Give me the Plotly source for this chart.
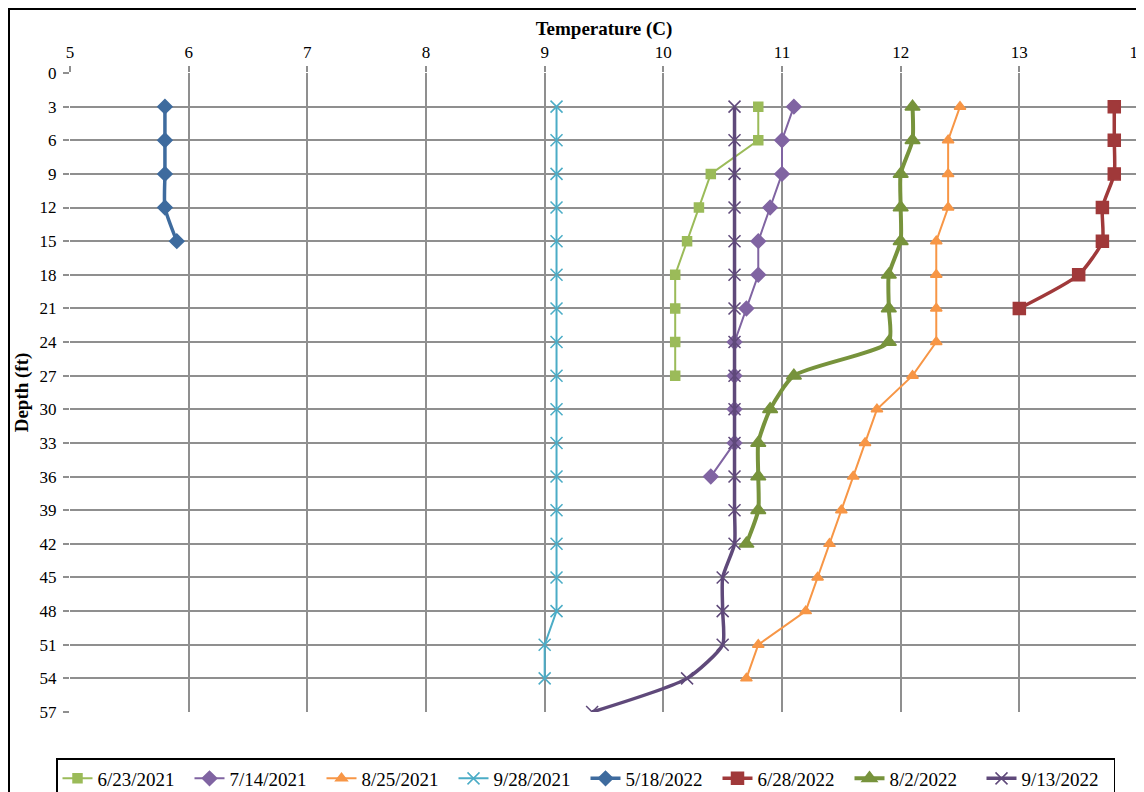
import plotly.graph_objects as go

d_0623_2021 = [3, 6, 9, 12, 15, 18, 21, 24, 27]
t_0623_2021 = [10.8, 10.8, 10.4, 10.3, 10.2, 10.1, 10.1, 10.1, 10.1]

d_0714_2021 = [3, 6, 9, 12, 15, 18, 21, 24, 27, 30, 33, 36]
t_0714_2021 = [11.1, 11.0, 11.0, 10.9, 10.8, 10.8, 10.7, 10.6, 10.6, 10.6, 10.6, 10.4]

d_0825_2021 = [3, 6, 9, 12, 15, 18, 21, 24, 27, 30, 33, 36, 39, 42, 45, 48, 51, 54]
t_0825_2021 = [12.5, 12.4, 12.4, 12.4, 12.3, 12.3, 12.3, 12.3, 12.1, 11.8, 11.7, 11.6, 11.5, 11.4, 11.3, 11.2, 10.8, 10.7]

d_0928_2021 = [3, 6, 9, 12, 15, 18, 21, 24, 27, 30, 33, 36, 39, 42, 45, 48, 51, 54]
t_0928_2021 = [9.1, 9.1, 9.1, 9.1, 9.1, 9.1, 9.1, 9.1, 9.1, 9.1, 9.1, 9.1, 9.1, 9.1, 9.1, 9.1, 9.0, 9.0]

d_0518_2022 = [3, 6, 9, 12, 15]
t_0518_2022 = [5.8, 5.8, 5.8, 5.8, 5.9]

d_0628_2022 = [3, 6, 9, 12, 15, 18, 21]
t_0628_2022 = [13.8, 13.8, 13.8, 13.7, 13.7, 13.5, 13.0]

d_0802_2022 = [3, 6, 9, 12, 15, 18, 21, 24, 27, 30, 33, 36, 39, 42]
t_0802_2022 = [12.1, 12.1, 12.0, 12.0, 12.0, 11.9, 11.9, 11.9, 11.1, 10.9, 10.8, 10.8, 10.8, 10.7]

d_0913_2022 = [3, 6, 9, 12, 15, 18, 21, 24, 27, 30, 33, 36, 39, 42, 45, 48, 51, 54, 57]
t_0913_2022 = [10.6, 10.6, 10.6, 10.6, 10.6, 10.6, 10.6, 10.6, 10.6, 10.6, 10.6, 10.6, 10.6, 10.6, 10.5, 10.5, 10.5, 10.2, 9.4]

x_ticks = [5, 6, 7, 8, 9, 10, 11, 12, 13, 14]
y_ticks = [0, 3, 6, 9, 12, 15, 18, 21, 24, 27, 30, 33, 36, 39, 42, 45, 48, 51, 54, 57]

FONT = "Liberation Serif"
GRID = "#8F8F8F"

series = [
    ("6/23/2021", t_0623_2021, d_0623_2021, "#9BBB59", "square", 9, 2, "linear"),
    ("7/14/2021", t_0714_2021, d_0714_2021, "#8064A2", "diamond", 11, 2, "linear"),
    ("8/25/2021", t_0825_2021, d_0825_2021, "#F79646", "triangle-up", 10, 2, "linear"),
    ("9/28/2021", t_0928_2021, d_0928_2021, "#4BACC6", "x-thin-open", 12, 2, "linear"),
    ("5/18/2022", t_0518_2022, d_0518_2022, "#3E6B9E", "diamond", 11, 3.5, "spline"),
    ("6/28/2022", t_0628_2022, d_0628_2022, "#A0393A", "square", 12, 3.5, "spline"),
    ("8/2/2022", t_0802_2022, d_0802_2022, "#77933C", "triangle-up", 13, 4, "spline"),
    ("9/13/2022", t_0913_2022, d_0913_2022, "#5F497A", "x-thin-open", 12, 3.5, "spline"),
]

fig = go.Figure()
for name, xs, ys, color, sym, size, lw, shape in series:
    fig.add_trace(go.Scatter(
        x=xs, y=ys, name=name, mode="lines+markers",
        line=dict(color=color, width=lw, shape=shape, smoothing=0.6),
        marker=dict(symbol=sym, size=size, color=color,
                    line=dict(color=color, width=1.5)),
    ))

# page has an 8px body offset; plot area in figure px: x 62..1130, y 65..704
fig.update_layout(
    width=1144, height=792,
    margin=dict(l=62, r=14, t=65, b=88, autoexpand=False),
    paper_bgcolor="white", plot_bgcolor="white",
    font=dict(family=FONT, size=17, color="black"),
    showlegend=True,
    legend=dict(orientation="h", x=(48 - 62) / 1068, xanchor="left",
                y=(704 - 750) / 639, yanchor="top",
                bordercolor="black", borderwidth=1.5,
                font=dict(family=FONT, size=19, color="black"),
                itemwidth=30, entrywidth=87, entrywidthmode="pixels",
                traceorder="normal"),
)
fig.update_xaxes(
    side="top", range=[5, 14], tickvals=x_ticks, ticktext=[str(v) for v in x_ticks],
    showgrid=True, gridcolor=GRID, gridwidth=1.5, zeroline=False,
    ticks="outside", ticklen=6, tickcolor=GRID, tickwidth=1.5, ticklabelstandoff=1,
    tickfont=dict(family=FONT, size=17),
    title=dict(text="<b>Temperature (C)</b>", font=dict(family=FONT, size=19), standoff=2),
    showline=False, automargin=False,
)
fig.update_yaxes(
    autorange=False, range=[57, 0], tickvals=y_ticks, ticktext=[str(v) for v in y_ticks],
    showgrid=True, gridcolor=GRID, gridwidth=1.5, zeroline=False,
    ticks="outside", ticklen=6, tickcolor=GRID, tickwidth=1.5, ticklabelstandoff=3,
    tickfont=dict(family=FONT, size=17),
    title=dict(text="<b>Depth (ft)</b>", font=dict(family=FONT, size=19), standoff=5),
    showline=False, automargin=False,
)
fig.add_shape(type="rect", xref="paper", yref="paper",
              x0=(1 - 62) / 1068, x1=1.03, y0=-0.2, y1=(704 - 1) / 639,
              line=dict(color="black", width=2), fillcolor="rgba(0,0,0,0)", layer="below")

fig.write_html("out.html")
